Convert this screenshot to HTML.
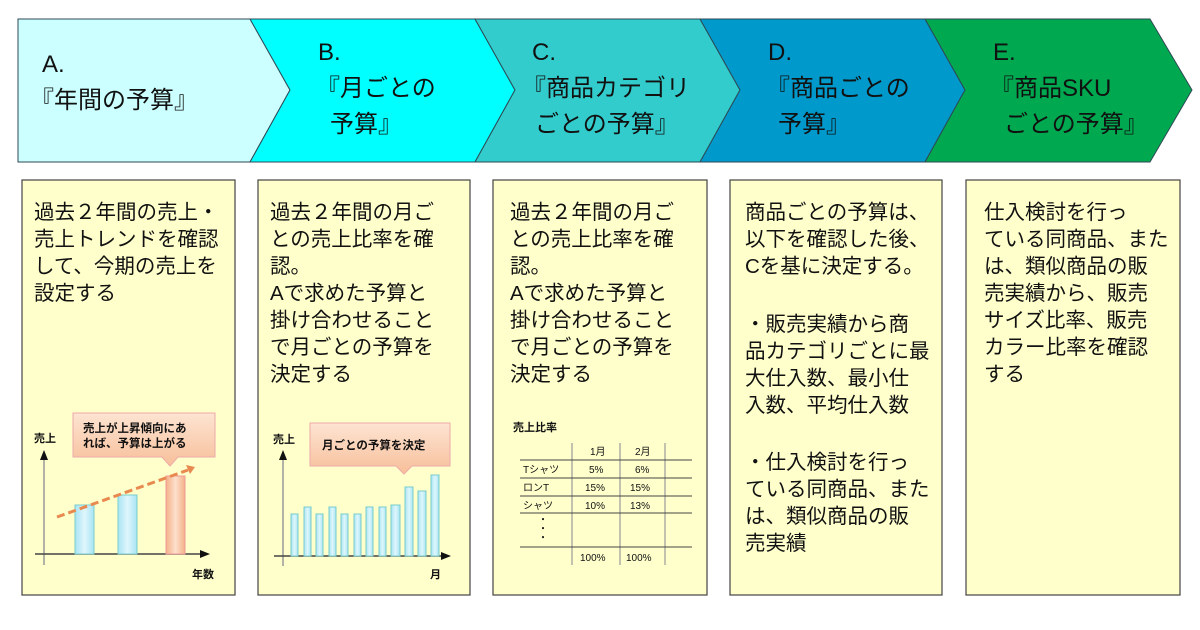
<!DOCTYPE html>
<html><head><meta charset="utf-8"><style>
html,body{margin:0;padding:0;background:#fff;}
svg{display:block;}
text{font-family:"Liberation Sans","Noto Sans CJK JP",sans-serif;fill:#111;}
</style></head><body>
<svg width="1200" height="630" viewBox="0 0 1200 630" xmlns="http://www.w3.org/2000/svg">
<defs>
<linearGradient id="bl" x1="0" x2="1"><stop offset="0" stop-color="#a8e4f4"/><stop offset="0.5" stop-color="#dff6fc"/><stop offset="1" stop-color="#a8e4f4"/></linearGradient>
<linearGradient id="or" x1="0" x2="1"><stop offset="0" stop-color="#f4b088"/><stop offset="0.5" stop-color="#fde0cc"/><stop offset="1" stop-color="#f4b088"/></linearGradient>
<linearGradient id="co" x1="0" y1="0" x2="0" y2="1"><stop offset="0" stop-color="#fde4d2"/><stop offset="1" stop-color="#f7bf9a"/></linearGradient>
</defs>
<g stroke="#2d4a55" stroke-width="1">
<polygon points="18,19 250,19 290,90 250,162 18,162" fill="#ccffff"/>
<polygon points="250,19 475,19 515,90 475,162 250,162 290,90" fill="#00ffff"/>
<polygon points="475,19 700,19 740,90 700,162 475,162 515,90" fill="#33cccc"/>
<polygon points="700,19 925,19 965,90 925,162 700,162 740,90" fill="#0099cc"/>
<polygon points="925,19 1150,19 1192,90 1150,162 925,162 965,90" fill="#00a84f"/>
</g>
<g font-size="24">
<text x="42" y="72">A.</text><text x="30" y="108">『年間の予算』</text>
<text x="318" y="60">B.</text><text x="316" y="96">『月ごとの</text><text x="330" y="132">予算』</text>
<text x="532" y="60">C.</text><text x="522" y="96">『商品カテゴリ</text><text x="535" y="132">ごとの予算』</text>
<text x="768" y="60">D.</text><text x="766" y="96">『商品ごとの</text><text x="778" y="132">予算』</text>
<text x="993" y="60">E.</text><text x="990" y="96">『商品SKU</text><text x="1004" y="132">ごとの予算』</text>
</g>
<g fill="#ffffcc" stroke="#444" stroke-width="1.2">
<rect x="22" y="180" width="213" height="415"/>
<rect x="258" y="180" width="212" height="415"/>
<rect x="493" y="180" width="214" height="415"/>
<rect x="730" y="180" width="212" height="415"/>
<rect x="966" y="180" width="214" height="415"/>
</g>
<g font-size="20.5">
<text x="34" y="219">過去２年間の売上・</text><text x="34" y="246">売上トレンドを確認</text><text x="34" y="273">して、今期の売上を</text><text x="34" y="300">設定する</text>
<text x="270" y="219">過去２年間の月ご</text><text x="270" y="246">との売上比率を確</text><text x="270" y="273">認。</text><text x="270" y="300">Aで求めた予算と</text><text x="270" y="327">掛け合わせること</text><text x="270" y="354">で月ごとの予算を</text><text x="270" y="381">決定する</text>
<text x="510" y="219">過去２年間の月ご</text><text x="510" y="246">との売上比率を確</text><text x="510" y="273">認。</text><text x="510" y="300">Aで求めた予算と</text><text x="510" y="327">掛け合わせること</text><text x="510" y="354">で月ごとの予算を</text><text x="510" y="381">決定する</text>
<text x="745" y="219">商品ごとの予算は、</text><text x="745" y="246">以下を確認した後、</text><text x="745" y="273">Cを基に決定する。</text>
<text x="745" y="331">・販売実績から商</text><text x="745" y="358">品カテゴリごとに最</text><text x="745" y="385">大仕入数、最小仕</text><text x="745" y="412">入数、平均仕入数</text>
<text x="745" y="469">・仕入検討を行っ</text><text x="745" y="496">ている同商品、また</text><text x="745" y="523">は、類似商品の販</text><text x="745" y="550">売実績</text>
<text x="984" y="219">仕入検討を行っ</text><text x="984" y="246">ている同商品、また</text><text x="984" y="273">は、類似商品の販</text><text x="984" y="300">売実績から、販売</text><text x="984" y="327">サイズ比率、販売</text><text x="984" y="354">カラー比率を確認</text><text x="984" y="381">する</text>
</g>
<g>
<line x1="44" y1="565" x2="44" y2="458" stroke="#999" stroke-width="1.5"/>
<polygon points="40,460 48,460 44,450" fill="#111"/>
<line x1="35" y1="554" x2="202" y2="554" stroke="#444" stroke-width="1.5"/>
<polygon points="200,550 200,558 210,554" fill="#111"/>
<rect x="75" y="505" width="19" height="49" fill="url(#bl)" stroke="#7cc"/>
<rect x="118" y="495" width="19" height="59" fill="url(#bl)" stroke="#7cc"/>
<rect x="166" y="476" width="19" height="78" fill="url(#or)" stroke="#e99"/>
<line x1="57" y1="517" x2="188" y2="470" stroke="#e88a50" stroke-width="3" stroke-dasharray="8,4"/>
<polygon points="186,465 195,467 190,474" fill="#e88a50"/>
<path d="M73,413 H215 V457 H178 L170,466 L162,457 H73 Z" fill="url(#co)" stroke="#eaa"/>
<text x="83" y="432" font-size="11.5" font-weight="bold">売上が上昇傾向にあ</text>
<text x="83" y="447" font-size="11.5" font-weight="bold">れば、予算は上がる</text>
<text x="34" y="442" font-size="11" font-weight="bold">売上</text>
<text x="192" y="578" font-size="11" font-weight="bold">年数</text>
</g>
<g>
<line x1="283" y1="566" x2="283" y2="458" stroke="#999" stroke-width="1.5"/>
<polygon points="279,460 287,460 283,450" fill="#111"/>
<line x1="274" y1="556" x2="443" y2="556" stroke="#444" stroke-width="1.5"/>
<polygon points="441,552 441,560 451,556" fill="#111"/>
<g fill="url(#bl)" stroke="#7cc">
<rect x="291" y="514" width="7" height="42"/><rect x="304" y="507" width="7" height="49"/>
<rect x="316" y="514" width="7" height="42"/><rect x="329" y="507" width="7" height="49"/>
<rect x="341" y="514" width="7" height="42"/><rect x="354" y="514" width="7" height="42"/>
<rect x="366" y="507" width="7" height="49"/><rect x="379" y="507" width="7" height="49"/>
<rect x="391" y="505" width="9" height="51"/><rect x="405" y="487" width="8" height="69"/>
<rect x="418" y="491" width="8" height="65"/><rect x="431" y="475" width="8" height="81"/>
</g>
<path d="M310,423 H450 V466 H412 L404,474 L396,466 H310 Z" fill="url(#co)" stroke="#eaa"/>
<text x="322" y="449" font-size="11.5" font-weight="bold">月ごとの予算を決定</text>
<text x="273" y="443" font-size="11" font-weight="bold">売上</text>
<text x="430" y="578" font-size="11" font-weight="bold">月</text>
</g>
<g font-size="10">
<text x="513" y="431" font-size="11" font-weight="bold">売上比率</text>
<g stroke="#999" stroke-width="1.2"><line x1="572" y1="443" x2="572" y2="565"/><line x1="620" y1="443" x2="620" y2="565"/><line x1="665" y1="443" x2="665" y2="565"/></g>
<g stroke="#444" stroke-width="1"><line x1="520" y1="460" x2="692" y2="460"/><line x1="520" y1="478" x2="692" y2="478"/><line x1="520" y1="496" x2="692" y2="496"/><line x1="520" y1="513" x2="692" y2="513"/><line x1="520" y1="547" x2="692" y2="547"/></g>
<text x="590" y="455">1月</text><text x="635" y="455">2月</text>
<text x="523" y="473">Tシャツ</text><text x="589" y="473">5%</text><text x="635" y="473">6%</text>
<text x="523" y="491">ロンT</text><text x="585" y="491">15%</text><text x="630" y="491">15%</text>
<text x="523" y="509">シャツ</text><text x="585" y="509">10%</text><text x="630" y="509">13%</text>
<text x="538" y="523">・</text><text x="538" y="532">・</text><text x="538" y="541">・</text>
<text x="580" y="561">100%</text><text x="626" y="561">100%</text>
</g>
</svg>
</body></html>
